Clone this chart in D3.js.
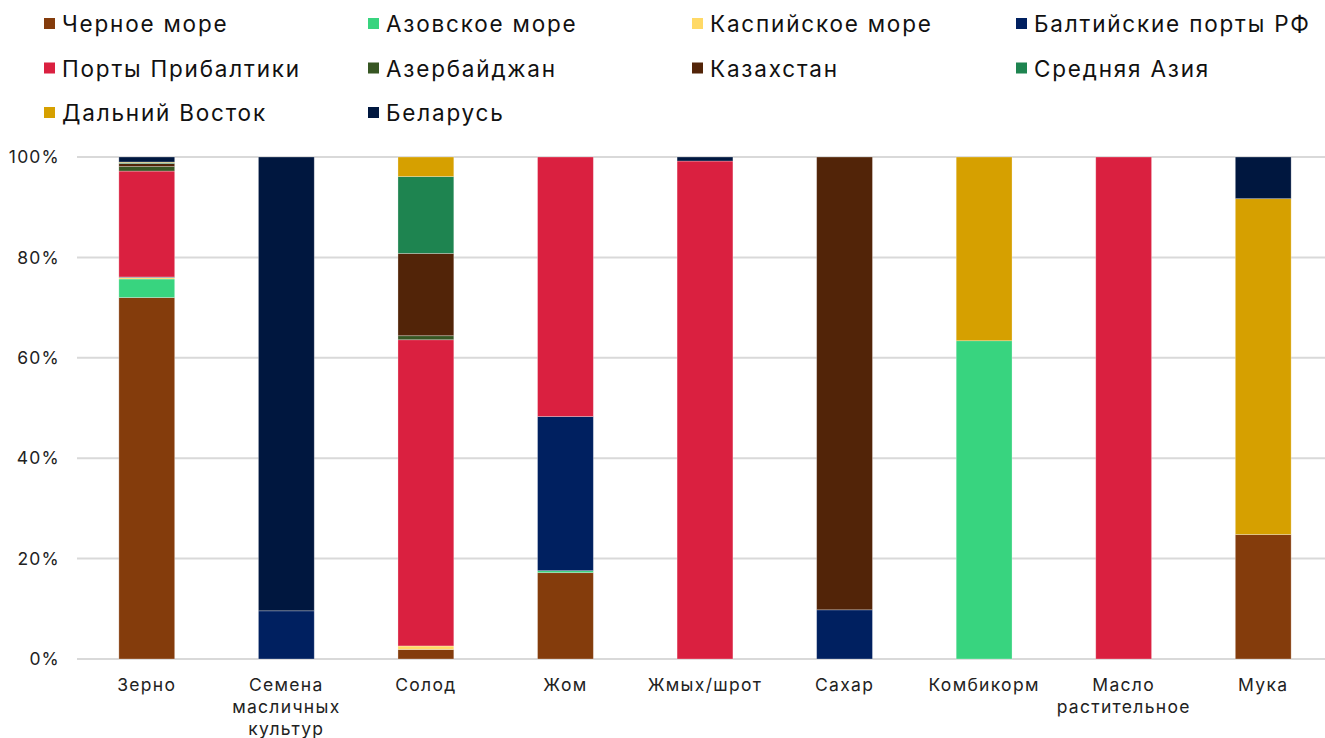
<!DOCTYPE html>
<html>
<head>
<meta charset="utf-8">
<script src="https://cdn.jsdelivr.net/npm/d3@7"></script>
<style>
  body { margin: 0; background: #fff; }
  svg { font-family: "Inter", "Noto Sans", sans-serif; }
</style>
</head>
<body>
<script>
// categories (x axis) and series, values in % of each bar
var categories = ["Зерно", "Семена масличных культур", "Солод", "Жом", "Жмых/шрот", "Сахар", "Комбикорм", "Масло растительное", "Мука"];
var categoryLines = [["Зерно"], ["Семена", "масличных", "культур"], ["Солод"], ["Жом"], ["Жмых/шрот"], ["Сахар"], ["Комбикорм"], ["Масло", "растительное"], ["Мука"]];

var seriesNames = ["Черное море", "Азовское море", "Каспийское море", "Балтийские порты РФ", "Порты Прибалтики", "Азербайджан", "Казахстан", "Средняя Азия", "Дальний Восток", "Беларусь"];
var seriesColors = ["#843c0c", "#38d47f", "#ffd966", "#002060", "#da2040", "#375623", "#522408", "#1e8450", "#d6a000", "#00173f"];

var chernoe   = [72.0, 0,    1.9,  17.2, 0,    0,    0,    0,   24.8];
var azov      = [3.7,  0,    0,    0.4,  0,    0,    63.4, 0,   0];
var kaspiy    = [0.3,  0,    0.7,  0,    0,    0,    0,    0,   0];
var baltRF    = [0.1,  9.6,  0,    30.7, 0,    9.8,  0,    0,   0];
var pribalt   = [21.1, 0,    61.0, 51.7, 99.2, 0,    0,    100, 0];
var azerb     = [0.9,  0,    0.8,  0,    0,    0,    0,    0,   0];
var kazakh    = [0.6,  0,    16.4, 0,    0,    90.2, 0,    0,   0];
var srAzia    = [0.2,  0,    15.3, 0,    0,    0,    0,    0,   0];
var dalVostok = [0.1,  0,    3.9,  0,    0,    0,    36.6, 0,   66.9];
var belarus   = [1.0,  90.4, 0,    0,    0.8,  0,    0,    0,   8.3];

var yTicks = [0, 20, 40, 60, 80, 100];

var seriesValues = [chernoe, azov, kaspiy, baltRF, pribalt, azerb, kazakh, srAzia, dalVostok, belarus];

var width = 1325, height = 738;
var svg = d3.select("body").append("svg")
  .attr("width", width)
  .attr("height", height);

var rows = categories.map(function(c, i) {
  var r = { cat: c };
  seriesNames.forEach(function(s, j) { r[s] = seriesValues[j][i]; });
  return r;
});

var x = d3.scaleBand()
  .domain(categories)
  .range([77, 1333])
  .paddingInner(0.6)
  .paddingOuter(0.3);

var y = d3.scaleLinear()
  .domain([0, 100])
  .range([659, 157]);

// gridlines
svg.append("g")
  .selectAll("line")
  .data(yTicks)
  .enter().append("line")
  .attr("x1", 77)
  .attr("x2", width)
  .attr("y1", function(d) { return y(d); })
  .attr("y2", function(d) { return y(d); })
  .attr("stroke", "#d9d9d9")
  .attr("stroke-width", 2);

// y tick labels
svg.append("g")
  .selectAll("text")
  .data(yTicks)
  .enter().append("text")
  .attr("x", 60)
  .attr("y", function(d) { return y(d); })
  .attr("dy", "0.35em")
  .attr("text-anchor", "end")
  .attr("font-size", 17.5)
  .attr("letter-spacing", 1.2)
  .attr("fill", "#222")
  .text(function(d) { return d + "%"; });

var stack = d3.stack().keys(seriesNames);
var stacked = stack(rows);

svg.append("g")
  .selectAll("g")
  .data(stacked)
  .enter().append("g")
  .attr("fill", function(d, i) { return seriesColors[i]; })
  .selectAll("rect")
  .data(function(d) { return d; })
  .enter().append("rect")
  .filter(function(d) { return d[1] - d[0] > 0; })
  .attr("x", function(d) { return x(d.data.cat); })
  .attr("width", x.bandwidth())
  .attr("y", function(d) { return y(d[1]); })
  .attr("height", function(d) { return y(d[0]) - y(d[1]); })
  .attr("stroke", "rgba(255,255,255,0.35)")
  .attr("stroke-width", 0.8);

// category labels
var catLabels = svg.append("g")
  .selectAll("text")
  .data(categories)
  .enter().append("text")
  .attr("x", function(d) { return x(d) + x.bandwidth() / 2; })
  .attr("y", 691)
  .attr("text-anchor", "middle")
  .attr("font-size", 17.5)
  .attr("letter-spacing", 1.3)
  .attr("fill", "#222");

catLabels.each(function(d, i) {
  var t = d3.select(this);
  categoryLines[i].forEach(function(line, k) {
    t.append("tspan")
      .attr("x", x(d) + x.bandwidth() / 2)
      .attr("dy", k === 0 ? 0 : 22)
      .text(line);
  });
});

// legend, 4 columns
var legend = svg.append("g")
  .selectAll("g")
  .data(seriesNames)
  .enter().append("g")
  .attr("transform", function(d, i) {
    return "translate(" + (44 + (i % 4) * 324) + "," + (24 + Math.floor(i / 4) * 44.5) + ")";
  });

legend.append("rect")
  .attr("x", 0)
  .attr("y", -6)
  .attr("width", 11)
  .attr("height", 11)
  .attr("fill", function(d, i) { return seriesColors[i]; });

legend.append("text")
  .attr("x", 18)
  .attr("y", 0)
  .attr("dy", "0.36em")
  .attr("font-size", 22.5)
  .attr("letter-spacing", 1.8)
  .attr("fill", "#111")
  .text(function(d) { return d; });
</script>
</body>
</html>
